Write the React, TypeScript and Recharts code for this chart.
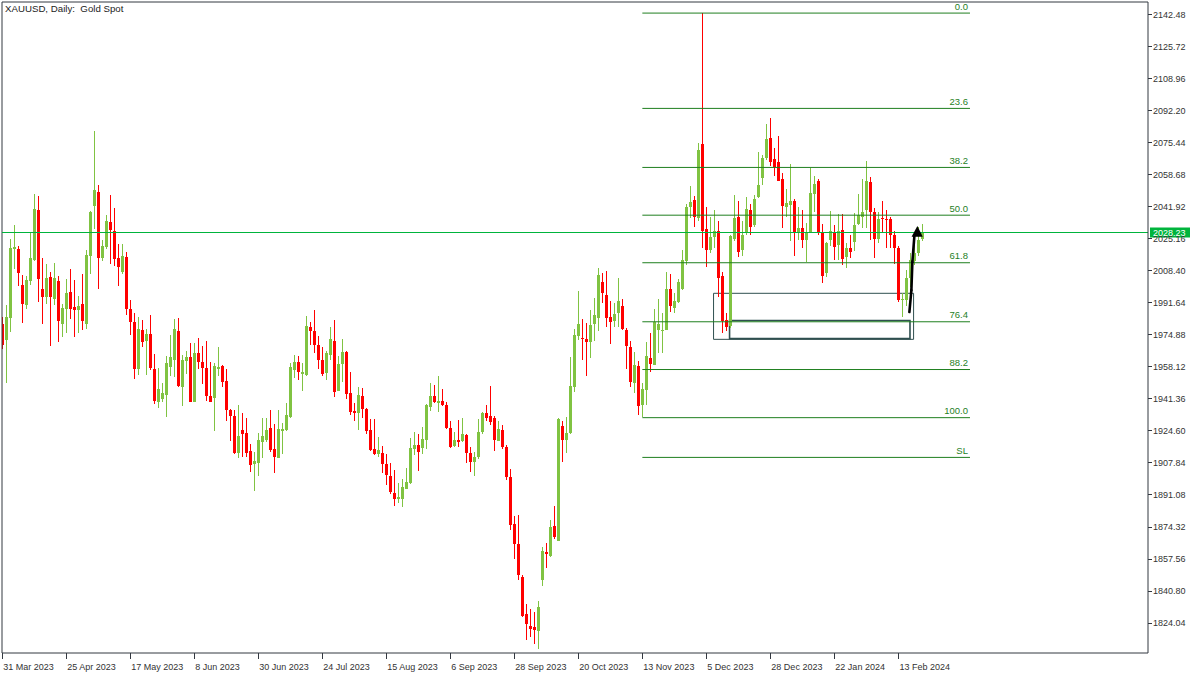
import React from 'react';
import { ComposedChart, Bar, XAxis, YAxis, ReferenceLine, ReferenceArea, ReferenceDot } from 'recharts';

// ---- data ----
const opens = [
1980.5,1972.0,1983.7,2019.8,2019.5,2000.8,1990.3,2002.9,2013.9,2040.0,
1998.7,1994.3,2004.8,1993.6,2002.9,1980.5,1988.2,1997.1,1989.4,1987.4,
1990.8,1980.5,2016.1,2042.3,2049.5,2015.1,2020.9,2033.8,2029.2,2014.9,
2007.6,2015.4,1988.2,1981.4,1957.0,1977.2,1971.6,1975.1,1956.8,1939.7,
1941.1,1943.2,1958.0,1961.7,1976.7,1947.5,1961.2,1962.9,1939.7,1965.1,
1960.4,1957.5,1942.6,1941.8,1957.0,1958.3,1950.5,1935.3,1932.3,1912.6,
1924.8,1923.3,1913.8,1907.2,1907.7,1918.7,1919.6,1925.9,1914.9,1910.4,
1924.5,1924.8,1931.8,1956.1,1960.4,1954.2,1953.6,1978.6,1976.8,1969.3,
1961.5,1954.9,1964.1,1971.6,1945.4,1959.2,1965.9,1944.0,1934.8,1933.9,
1942.6,1935.8,1924.8,1915.1,1912.3,1913.0,1907.1,1900.9,1892.0,1888.7,
1888.7,1894.1,1896.9,1914.9,1917.0,1915.2,1919.6,1937.1,1942.6,1939.2,
1940.0,1937.9,1926.0,1916.5,1919.6,1919.3,1922.2,1912.6,1908.1,1910.5,
1923.8,1933.7,1932.4,1931.3,1919.3,1924.9,1916.1,1900.1,1875.7,1865.2,
1848.1,1828.5,1822.3,1821.9,1819.8,1846.3,1861.2,1858.9,1874.6,1866.9,
1926.9,1919.6,1923.1,1947.2,1974.2,1973.2,1972.3,1971.1,1980.3,1983.7,
2002.2,1995.5,1984.2,1982.1,1986.0,1989.8,1977.2,1968.5,1949.6,1958.4,
1937.9,1945.8,1962.7,1958.9,1977.2,1977.0,1977.2,1998.5,1988.6,1992.0,
1998.9,2013.5,2041.4,2045.3,2036.0,2074.6,2030.1,2019.1,2025.7,2029.2,
2005.5,1982.5,1979.3,2024.7,2036.2,2019.1,2027.8,2040.0,2032.2,2047.0,
2057.0,2067.0,2077.5,2066.5,2065.0,2056.0,2041.4,2042.6,2044.7,2028.3,
2030.8,2024.3,2028.7,2048.2,2055.4,2027.8,2006.9,2024.3,2028.7,2021.7,
2029.6,2015.6,2020.3,2023.4,2032.7,2036.2,2040.0,2054.8,2039.0,2024.7,
2036.0,2035.5,2035.3,2026.9,2020.0,1992.9,1992.9,2004.4,2013.5,2017.5,
2025.0,
];
const highs = [
1984.0,1990.3,2024.7,2032.2,2021.2,2006.0,2005.7,2028.4,2048.4,2047.4,
2014.9,2011.8,2007.8,2012.3,2005.7,1990.8,2003.9,2009.2,2003.4,1995.2,
2006.4,2019.1,2039.7,2081.4,2053.1,2024.3,2037.4,2047.9,2040.9,2022.1,
2022.1,2018.0,1992.9,1986.3,1984.0,1982.5,1977.8,1985.3,1964.6,1957.5,
1949.4,1963.6,1974.6,1982.9,1983.5,1964.1,1966.2,1970.2,1970.2,1972.8,
1969.0,1971.3,1960.6,1959.7,1968.3,1958.9,1956.8,1936.0,1935.3,1937.9,
1933.9,1931.3,1917.5,1913.3,1923.1,1931.3,1931.3,1935.3,1928.0,1935.3,
1928.3,1938.8,1959.7,1964.1,1963.6,1959.7,1984.5,1981.4,1987.7,1974.0,
1968.5,1966.2,1978.9,1982.4,1963.6,1972.5,1966.4,1955.4,1939.2,1947.2,
1946.7,1936.5,1930.6,1930.6,1921.4,1916.6,1912.1,1907.4,1903.9,1897.3,
1899.0,1905.1,1920.8,1923.8,1922.7,1926.6,1938.5,1949.3,1948.4,1953.1,
1946.3,1939.7,1929.7,1924.0,1930.1,1931.3,1923.0,1916.1,1913.3,1930.6,
1934.5,1937.9,1947.9,1932.0,1929.6,1927.5,1917.0,1904.4,1879.8,1880.4,
1848.9,1833.8,1831.2,1829.8,1835.3,1863.8,1865.5,1877.7,1885.0,1931.3,
1929.6,1931.8,1963.2,1977.7,1997.8,1983.0,1980.7,1987.7,1993.8,2009.5,
2006.9,2008.1,1992.4,1991.2,2004.2,1993.4,1978.5,1971.6,1965.9,1961.2,
1949.3,1971.1,1975.5,1988.2,1993.4,1986.0,2007.7,2006.5,1996.4,2003.9,
2019.1,2043.2,2052.6,2047.4,2075.0,2143.1,2041.8,2036.5,2040.0,2034.4,
2007.8,1986.0,2027.0,2047.9,2044.9,2034.0,2047.0,2043.2,2047.8,2070.6,
2069.0,2085.0,2088.0,2072.3,2078.8,2059.5,2050.8,2063.9,2046.0,2041.8,
2040.0,2033.0,2061.8,2058.0,2056.0,2032.7,2023.5,2039.7,2032.2,2037.7,
2037.7,2022.6,2026.9,2038.3,2048.4,2056.2,2065.7,2057.5,2041.0,2039.0,
2044.9,2040.0,2036.5,2029.0,2021.0,1996.4,2008.6,2017.7,2023.0,2031.0,
2032.7,
];
const lows = [
1967.0,1949.3,1976.4,2009.3,2000.4,1981.0,1988.2,2000.8,2013.3,1992.1,
1980.4,1991.0,1969.0,1990.3,1971.1,1973.7,1975.8,1983.2,1973.7,1975.8,
1977.2,1977.9,2006.7,2030.0,1998.9,2013.5,2019.5,2011.6,2010.9,2000.4,
2006.5,1985.3,1974.6,1951.8,1953.7,1968.5,1953.7,1956.3,1938.5,1936.5,
1939.7,1931.8,1953.1,1952.8,1947.5,1937.6,1954.0,1939.3,1939.3,1956.6,
1949.1,1940.0,1939.5,1924.5,1953.1,1947.5,1929.7,1919.3,1912.3,1910.0,
1910.9,1910.9,1903.0,1893.1,1900.8,1910.0,1918.7,1913.5,1902.5,1910.0,
1912.4,1924.2,1931.2,1952.2,1951.0,1945.4,1953.0,1969.3,1965.3,1956.8,
1953.1,1951.0,1961.5,1942.3,1945.0,1950.2,1941.3,1932.7,1929.7,1924.8,
1930.9,1922.7,1913.9,1911.8,1910.9,1902.5,1896.0,1891.3,1885.1,1886.8,
1884.7,1893.8,1896.5,1911.8,1903.6,1912.3,1914.7,1935.0,1939.2,1934.4,
1937.4,1925.2,1915.2,1916.0,1916.1,1918.7,1907.7,1903.0,1900.9,1909.8,
1922.6,1929.7,1927.5,1913.9,1919.0,1915.1,1898.7,1872.5,1857.1,1846.3,
1827.1,1814.9,1816.7,1812.8,1810.2,1843.3,1852.8,1858.5,1867.6,1866.5,
1908.3,1912.6,1922.5,1944.9,1971.9,1961.5,1953.1,1962.7,1971.6,1976.9,
1991.2,1978.9,1969.7,1979.0,1979.0,1977.2,1956.7,1947.5,1944.4,1932.7,
1931.4,1937.9,1955.4,1958.9,1965.4,1965.4,1977.0,1986.8,1986.0,1991.2,
1998.2,2011.3,2035.7,2031.3,2034.0,2020.0,2010.4,2017.4,2020.0,1994.7,
1975.5,1976.7,1978.0,2024.0,2015.3,2015.8,2027.0,2027.0,2031.0,2046.5,
2053.0,2066.0,2063.0,2057.8,2055.0,2030.4,2036.2,2024.0,2016.0,2024.3,
2020.3,2012.6,2028.0,2039.0,2027.0,2001.6,2005.0,2021.0,2013.8,2013.8,
2011.2,2009.5,2015.0,2018.5,2032.0,2030.4,2030.4,2024.5,2014.7,2022.5,
2028.0,2020.0,2020.0,2012.0,1992.0,1984.2,1990.0,1999.9,2011.0,2016.0,
2024.0,
];
const closes = [
1969.5,1983.9,2020.3,2020.5,2007.2,1991.0,2003.4,2014.9,2040.6,2003.9,
1994.7,2004.5,1994.7,2004.5,1982.1,1988.7,1996.8,1988.2,1987.4,1990.0,
1982.1,2016.6,2039.2,2050.5,2015.1,2021.2,2034.3,2029.6,2014.4,2010.4,
2016.0,1988.2,1981.4,1957.0,1977.9,1971.1,1975.1,1957.2,1940.2,1946.3,
1944.2,1959.9,1962.9,1977.7,1948.0,1961.5,1962.9,1939.7,1965.1,1960.3,
1957.1,1942.6,1939.7,1958.3,1957.8,1950.0,1935.3,1932.3,1912.6,1921.7,
1922.7,1913.0,1906.5,1908.6,1919.6,1921.7,1924.8,1914.4,1910.9,1925.4,
1925.4,1932.7,1957.6,1960.4,1955.4,1955.4,1979.3,1976.8,1969.3,1961.5,
1954.2,1965.3,1972.5,1944.9,1959.4,1965.7,1943.7,1934.4,1933.9,1943.2,
1935.8,1924.5,1914.4,1912.3,1914.4,1907.1,1901.3,1892.2,1888.7,1889.8,
1894.8,1897.6,1915.4,1917.0,1913.5,1920.0,1937.9,1942.6,1939.7,1940.0,
1937.9,1926.0,1916.1,1919.6,1918.7,1922.7,1913.0,1908.3,1910.5,1923.8,
1933.7,1931.3,1929.2,1919.8,1925.4,1916.1,1900.1,1875.1,1865.2,1848.9,
1827.7,1823.3,1820.7,1820.2,1832.0,1861.5,1860.1,1874.2,1868.7,1930.6,
1919.6,1923.4,1947.9,1974.6,1980.3,1972.5,1971.1,1979.8,1985.0,2006.0,
1996.4,1983.7,1981.6,1985.6,1992.4,1977.6,1968.8,1950.2,1958.9,1937.4,
1946.1,1963.6,1959.4,1981.6,1980.4,1977.4,1998.5,1989.8,1992.4,2002.4,
2013.9,2041.4,2044.0,2036.2,2071.5,2029.2,2019.1,2026.1,2029.0,2004.3,
1982.1,1979.0,2026.4,2035.7,2018.2,2027.0,2040.4,2031.0,2045.8,2053.1,
2067.0,2077.0,2065.0,2062.7,2055.4,2042.0,2043.5,2044.9,2027.8,2030.4,
2024.3,2028.3,2048.7,2053.6,2027.8,2005.6,2022.9,2029.0,2020.8,2029.2,
2014.2,2020.3,2018.2,2032.2,2037.4,2039.1,2055.4,2039.0,2024.7,2035.5,
2035.1,2034.6,2026.9,2020.0,1992.9,1993.2,2004.3,2013.8,2017.5,2024.5,
2028.23,
];

const xTickIdx = [0, 16, 32, 48, 64, 80, 96, 112, 128, 144, 160, 176, 192, 208, 224];
const xTickLabels = ['31 Mar 2023', '25 Apr 2023', '17 May 2023', '8 Jun 2023', '30 Jun 2023', '24 Jul 2023',
  '15 Aug 2023', '6 Sep 2023', '28 Sep 2023', '20 Oct 2023', '13 Nov 2023', '5 Dec 2023', '28 Dec 2023',
  '22 Jan 2024', '13 Feb 2024'];
const yTicks = [2142.48, 2125.72, 2108.96, 2092.2, 2075.44, 2058.68, 2041.92, 2025.16, 2008.4, 1991.64,
  1974.88, 1958.12, 1941.36, 1924.6, 1907.84, 1891.08, 1874.32, 1857.56, 1840.8, 1824.04];

const fibLabels = ['0.0', '23.6', '38.2', '50.0', '61.8', '76.4', '88.2', '100.0', 'SL'];
const fibPrices = [2143.1, 2093.2, 2062.3, 2037.3, 2012.4, 1981.5, 1956.5, 1931.3, 1910.5];
const fibStart = 160;
const fibEnd = 241.9;

const lastPrice = 2028.23;

const boxOuter = { x1: 177.8, x2: 227.8, y1: 1972.3, y2: 1996.4 };
const boxInner = { x1: 181.8, x2: 226.9, y1: 1972.7, y2: 1982.2 };

const arrowX = [226.75, 227.25, 227.5, 228.0];
const arrowY = [1986.6, 1998.0, 2012.8, 2026.4];
const arrowTip = { x: 228.75, y: 2031.6 };

const X_DOMAIN: [number, number] = [-0.075, 286.4];
const Y_DOMAIN: [number, number] = [1808.1, 2148.9];

// ---- styles ----
const BULL = '#80c342';
const BEAR = '#ff0000';
const FIB = '#1f7f1f';
const PRICE = '#00b43c';
const FRAME = '#333840';
const FONT = '"Liberation Sans", Arial, sans-serif';

const rows = opens.map((o, i) => ({ i, o, h: highs[i], l: lows[i], c: closes[i] }));

const Candle = (props: any) => {
  const { x, y, width, height, payload } = props;
  if (x == null || y == null || !payload) return null;
  const { o, h, l, c } = payload;
  const top = Math.min(y, y + height);
  const span = Math.abs(height);
  const py = (v: number) => (h === l ? top : top + ((h - v) / (h - l)) * span);
  const up = c >= o;
  const color = up ? BULL : BEAR;
  const cx = Math.round(x + width / 2 - 0.5) + 0.5;
  const bTop = Math.round(py(Math.max(o, c)));
  const bBot = Math.round(py(Math.min(o, c)));
  return (
    <g shapeRendering="crispEdges">
      <line x1={cx} x2={cx} y1={Math.round(top)} y2={Math.round(top + span)} stroke={color} strokeWidth={1} />
      <rect x={cx - 1.5} y={bTop} width={3} height={Math.max(1, bBot - bTop)} fill={color} />
    </g>
  );
};

const XTick = (props: any) => {
  const { x, y, payload } = props;
  const k = xTickIdx.indexOf(payload.value);
  const lx = Math.round(x) + 0.5;
  return (
    <g>
      <line x1={lx} x2={lx} y1={y} y2={y + 6} stroke={FRAME} strokeWidth={1} />
      <text x={x + 1} y={y + 17} fontSize={9} fontFamily={FONT} fill="#333" textAnchor="start">
        {k >= 0 ? xTickLabels[k] : ''}
      </text>
    </g>
  );
};

const YTick = (props: any) => {
  const { x, y, payload } = props;
  const ly = Math.round(y) + 0.5;
  return (
    <g>
      <line x1={x} x2={x + 4} y1={ly} y2={ly} stroke={FRAME} strokeWidth={1} />
      <text x={x + 5} y={y + 3.3} fontSize={9} fontFamily={FONT} fill="#333" textAnchor="start">
        {Number(payload.value).toFixed(2)}
      </text>
    </g>
  );
};

const FibLabel = (props: any) => {
  const { viewBox, text } = props;
  if (!viewBox) return null;
  return (
    <text x={viewBox.x + viewBox.width - 2} y={viewBox.y - 3.5} fontSize={9.5} fontFamily={FONT}
      fill={FIB} textAnchor="end">{text}</text>
  );
};

const PriceLabel = (props: any) => {
  const { viewBox } = props;
  if (!viewBox) return null;
  const bx = viewBox.x + viewBox.width + 2;
  const by = viewBox.y;
  return (
    <g>
      <rect x={bx} y={by - 5} width={40} height={10} fill={PRICE} />
      <text x={bx + 3} y={by + 3.3} fontSize={9} fontFamily={FONT} fill="#ffffff">{lastPrice.toFixed(2)}</text>
    </g>
  );
};

const ArrowHead = (props: any) => {
  const { cx, cy } = props;
  if (cx == null || cy == null) return null;
  return <polygon points={`${cx},${cy} ${cx - 5.8},${cy + 10.6} ${cx + 5.4},${cy + 10.6}`} fill="#000" />;
};

export default function App() {
  return (
    <div style={{ position: 'absolute', left: 0, top: 0, width: 1200, height: 675, background: '#fff' }}>
      <ComposedChart width={1200} height={675} data={rows} margin={{ top: 2, right: 2, bottom: 2, left: 2 }}>
        <XAxis dataKey="i" type="number" domain={X_DOMAIN} allowDataOverflow ticks={xTickIdx} interval={0}
          tick={<XTick />} tickLine={false} tickSize={0} tickMargin={0} height={20}
          axisLine={{ stroke: FRAME }} />
        <YAxis orientation="right" type="number" domain={Y_DOMAIN} allowDataOverflow ticks={yTicks} interval={0}
          tick={<YTick />} tickLine={false} tickSize={0} tickMargin={0} width={50}
          axisLine={{ stroke: FRAME }} />
        <ReferenceLine y={Y_DOMAIN[1]} stroke={FRAME} ifOverflow="visible" />
        <ReferenceLine x={X_DOMAIN[0]} stroke={FRAME} ifOverflow="visible" />
        {fibPrices.map((p, k) => (
          <ReferenceLine key={'fib' + k} segment={[{ x: fibStart, y: p }, { x: fibEnd, y: p }]}
            stroke={FIB} strokeWidth={1} label={<FibLabel text={fibLabels[k]} />} />
        ))}
        <ReferenceArea x1={boxOuter.x1} x2={boxOuter.x2} y1={boxOuter.y1} y2={boxOuter.y2}
          fill="none" fillOpacity={0} stroke="#2f4f4f" strokeWidth={1} />
        <ReferenceArea x1={boxInner.x1} x2={boxInner.x2} y1={boxInner.y1} y2={boxInner.y2}
          fill="none" fillOpacity={0} stroke="#2f4f4f" strokeWidth={1.6} />
        <Bar dataKey={(r: any) => [r.l, r.h]} shape={<Candle />} barSize={3} isAnimationActive={false} />
        <ReferenceLine y={lastPrice} stroke={PRICE} strokeWidth={1} label={<PriceLabel />} />
        {arrowX.slice(0, -1).map((ax, k) => (
          <ReferenceLine key={'arr' + k}
            segment={[{ x: ax, y: arrowY[k] }, { x: arrowX[k + 1], y: arrowY[k + 1] }]}
            stroke="#000" strokeWidth={2.6} strokeLinecap="round" />
        ))}
        <ReferenceDot x={arrowTip.x} y={arrowTip.y} r={0} shape={<ArrowHead />} />
      </ComposedChart>
      <div style={{ position: 'absolute', left: 5, top: 3, fontFamily: FONT, fontSize: 9.7, color: '#222',
        whiteSpace: 'pre', lineHeight: '12px' }}>
        {'XAUUSD, Daily:  Gold Spot'}
      </div>
    </div>
  );
}
